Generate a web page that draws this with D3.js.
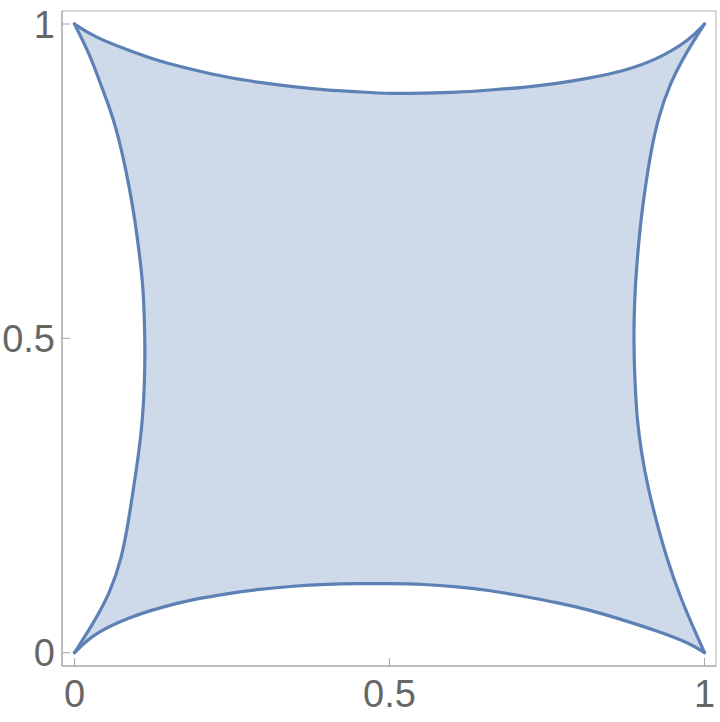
<!DOCTYPE html>
<html>
<head>
<meta charset="utf-8">
<script src="https://cdn.jsdelivr.net/npm/d3@7"></script>
<style>
  body { margin: 0; background: #fff; }
  text { font-family: "Liberation Sans", Arial, sans-serif; }
</style>
</head>
<body>
<script>
// Canvas setup
const canvasWidth = 720;
const canvasHeight = 722;

// Boundary of the region, one edge at a time
const bottomEdge = [
  [0, 0], [0.030, 0.030], [0.083, 0.055], [0.136, 0.072], [0.189, 0.085],
  [0.242, 0.094], [0.294, 0.101], [0.347, 0.106], [0.400, 0.109], [0.453, 0.110],
  [0.501, 0.110], [0.554, 0.109], [0.607, 0.105], [0.660, 0.099], [0.712, 0.090],
  [0.765, 0.080], [0.818, 0.068], [0.871, 0.052], [0.924, 0.035], [0.977, 0.015],
  [1, 0]
];
const rightEdge = [
  [1, 0], [0.980, 0.045], [0.961, 0.090], [0.940, 0.150], [0.923, 0.211],
  [0.910, 0.264], [0.900, 0.317], [0.893, 0.370], [0.890, 0.423], [0.888, 0.476],
  [0.888, 0.529], [0.890, 0.582], [0.894, 0.635], [0.899, 0.688], [0.906, 0.740],
  [0.914, 0.792], [0.926, 0.850], [0.945, 0.905], [0.970, 0.953], [1, 1]
];
const topEdge = [
  [1, 1], [0.977, 0.975], [0.924, 0.943], [0.871, 0.925], [0.818, 0.914],
  [0.765, 0.905], [0.712, 0.899], [0.660, 0.895], [0.607, 0.891], [0.554, 0.890],
  [0.501, 0.889], [0.453, 0.892], [0.400, 0.895], [0.347, 0.900], [0.294, 0.907],
  [0.242, 0.915], [0.189, 0.927], [0.136, 0.940], [0.083, 0.959], [0.030, 0.980],
  [0, 1]
];
const leftEdge = [
  [0, 1], [0.025, 0.950], [0.043, 0.900], [0.062, 0.850], [0.076, 0.794],
  [0.087, 0.741], [0.096, 0.688], [0.103, 0.635], [0.109, 0.582], [0.111, 0.529],
  [0.112, 0.476], [0.111, 0.423], [0.108, 0.370], [0.102, 0.317], [0.094, 0.264],
  [0.086, 0.211], [0.075, 0.150], [0.056, 0.094], [0.030, 0.047], [0, 0]
];

const xTicks = [0, 0.5, 1];
const yTicks = [0, 0.5, 1];
const tickLabels = ["0", "0.5", "1"];

const svg = d3.select('body')
    .append('svg')
    .attr('width', canvasWidth)
    .attr('height', canvasHeight);

// frame box in pixels
const frame = { left: 62, top: 11, right: 716, bottom: 666 };

let xScale = d3.scaleLinear().domain([0, 1]).range([74.5, 704.5]);
let yScale = d3.scaleLinear().domain([0, 1]).range([652.7, 24]);

// basis spline smooths out the reading noise, still starts/ends at the corners
let edgeFn = d3.line()
    .x(d => xScale(d[0]))
    .y(d => yScale(d[1]))
    .curve(d3.curveBasis);

const edges = [bottomEdge, rightEdge, topEdge, leftEdge];

// fill: join the edges into one closed path, keeping the sharp corners
let fillPath = edges.map((e, i) => {
    let s = edgeFn(e);
    return i === 0 ? s : 'L' + s.slice(1);
}).join('') + 'Z';

svg.append('path')
    .attr('d', fillPath)
    .attr('fill', '#5e81b5')
    .attr('fill-opacity', 0.3)
    .attr('stroke', 'none');

edges.forEach(e => {
    svg.append('path')
        .attr('d', edgeFn(e))
        .attr('fill', 'none')
        .attr('stroke', '#5e81b5')
        .attr('stroke-width', 3.2)
        .attr('stroke-linejoin', 'round')
        .attr('stroke-linecap', 'round');
});

// frame
svg.append('line')
    .attr('x1', frame.left).attr('x2', frame.right)
    .attr('y1', frame.top).attr('y2', frame.top)
    .attr('stroke', '#b3b3b3').attr('stroke-width', 1);
svg.append('line')
    .attr('x1', frame.right).attr('x2', frame.right)
    .attr('y1', frame.top).attr('y2', frame.bottom)
    .attr('stroke', '#b3b3b3').attr('stroke-width', 1);
svg.append('line')
    .attr('x1', frame.left).attr('x2', frame.left)
    .attr('y1', frame.top).attr('y2', frame.bottom)
    .attr('stroke', '#a6a6a6').attr('stroke-width', 1.5);
svg.append('line')
    .attr('x1', frame.left).attr('x2', frame.right)
    .attr('y1', frame.bottom).attr('y2', frame.bottom)
    .attr('stroke', '#a6a6a6').attr('stroke-width', 1.5);

// ticks (inward) and labels
const tickLen = 8;
xTicks.forEach((t, i) => {
    svg.append('line')
        .attr('x1', xScale(t)).attr('x2', xScale(t))
        .attr('y1', frame.bottom).attr('y2', frame.bottom - tickLen)
        .attr('stroke', '#a6a6a6').attr('stroke-width', 1);
    svg.append('text')
        .attr('x', xScale(t))
        .attr('y', 707)
        .attr('text-anchor', 'middle')
        .attr('font-size', 38)
        .attr('fill', '#666')
        .text(tickLabels[i]);
});
yTicks.forEach((t, i) => {
    svg.append('line')
        .attr('x1', frame.left).attr('x2', frame.left + tickLen)
        .attr('y1', yScale(t)).attr('y2', yScale(t))
        .attr('stroke', '#a6a6a6').attr('stroke-width', 1);
    svg.append('text')
        .attr('x', 55)
        .attr('y', yScale(t) + 13.5)
        .attr('text-anchor', 'end')
        .attr('font-size', 38)
        .attr('fill', '#666')
        .text(tickLabels[i]);
});
</script>
</body>
</html>
